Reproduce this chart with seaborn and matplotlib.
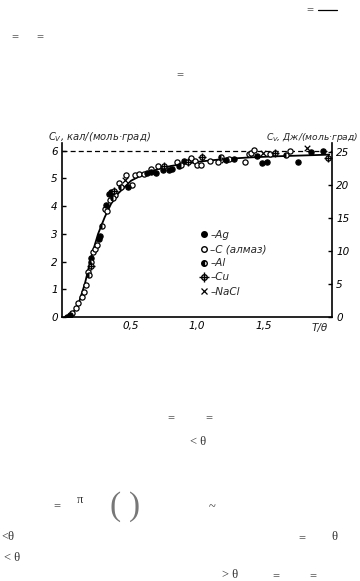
import numpy as np
import pandas as pd
import matplotlib
matplotlib.use("Agg")
import matplotlib.pyplot as plt
import seaborn as sns
from matplotlib.lines import Line2D
from matplotlib.markers import MarkerStyle

# ---- data (T/theta, Cv in cal/(mol*K)) ----
curve_x = [0.0, 0.05, 0.1, 0.15, 0.2, 0.25, 0.3, 0.35, 0.4, 0.5, 0.6, 0.7, 0.8, 1.0, 1.2, 1.4, 1.6, 1.8, 2.0]
curve_y = [0.0, 0.08, 0.45, 1.2, 2.2, 3.0, 3.6, 4.1, 4.45, 4.92, 5.17, 5.33, 5.45, 5.6, 5.7, 5.76, 5.8, 5.83, 5.86]

ag_x = [0.015, 0.04, 0.2, 0.255, 0.265, 0.31, 0.33, 0.35, 0.48, 0.62, 0.65, 0.69, 0.74, 0.79, 0.81, 0.86, 0.90, 1.22, 1.28, 1.45, 1.49, 1.53, 1.76, 1.86, 1.95]
ag_y = [0.0, 0.07, 2.12, 2.8, 2.92, 4.05, 4.45, 4.5, 4.7, 5.2, 5.25, 5.19, 5.3, 5.31, 5.33, 5.45, 5.64, 5.66, 5.69, 5.8, 5.57, 5.6, 5.6, 5.97, 6.0]

c_x = [0.05, 0.08, 0.10, 0.13, 0.145, 0.16, 0.17, 0.215, 0.23, 0.24, 0.30, 0.32, 0.34, 0.38, 0.41, 0.46, 0.51, 0.53, 0.56, 0.60, 0.65, 0.70, 0.85, 0.95, 0.98, 1.00, 1.03, 1.10, 1.16, 1.24, 1.36, 1.39, 1.41, 1.43, 1.55, 1.70]
c_y = [0.14, 0.31, 0.49, 0.73, 0.91, 1.15, 1.64, 2.36, 2.44, 2.6, 3.89, 3.84, 4.22, 4.4, 4.83, 5.13, 4.77, 5.13, 5.15, 5.15, 5.35, 5.45, 5.61, 5.73, 5.64, 5.48, 5.48, 5.64, 5.6, 5.69, 5.6, 5.88, 5.91, 6.03, 5.88, 6.0]

al_x = [0.18, 0.195, 0.28, 0.36, 0.42, 0.88, 1.18, 1.67]
al_y = [1.52, 2.0, 3.3, 4.3, 4.7, 5.5, 5.79, 5.85]

cu_x = [0.195, 0.37, 0.75, 0.93, 1.04, 1.59, 1.99]
cu_y = [1.85, 4.55, 5.45, 5.6, 5.79, 5.93, 5.73]

nacl_x = [0.45, 1.2, 1.50, 1.83]
nacl_y = [4.95, 5.65, 5.91, 6.09]

x_ticks = [0.5, 1.0, 1.5]
x_ticklabels = ["0,5", "1,0", "1,5"]
yl_ticks = [0, 1, 2, 3, 4, 5, 6]
yr_ticks = [0, 5, 10, 15, 20, 25]
labels = ["–Ag", "–C (алмаз)", "–Al", "–Cu", "–NaCl"]
CAL2J = 4.1868

sns.set_theme(style="white")
plt.rcParams['font.family'] = ['DejaVu Sans']

fig = plt.figure(figsize=(3.6, 5.81), dpi=100)
ax = fig.add_axes([62/360, 1 - 317/581, 270/360, 174/581])

df_curve = pd.DataFrame({"x": curve_x, "y": curve_y})
sns.lineplot(data=df_curve, x="x", y="y", ax=ax, color="black", lw=1.3)

ms = 14
sns.scatterplot(x=c_x, y=c_y, ax=ax, marker="o", s=ms, facecolor="white", edgecolor="black", linewidth=0.9, zorder=3)
sns.scatterplot(x=ag_x, y=ag_y, ax=ax, marker="o", s=ms, color="black", edgecolor="black", linewidth=0.9, zorder=4)
sns.scatterplot(x=al_x, y=al_y, ax=ax, marker="o", s=ms, facecolor="white", edgecolor="black", linewidth=0.9, zorder=4)
sns.scatterplot(x=al_x, y=al_y, ax=ax, marker=MarkerStyle("o", fillstyle="left"), s=ms, color="black", linewidth=0, zorder=5)
sns.scatterplot(x=cu_x, y=cu_y, ax=ax, marker="o", s=ms, facecolor="white", edgecolor="black", linewidth=0.9, zorder=4)
sns.scatterplot(x=cu_x, y=cu_y, ax=ax, marker="+", s=40, color="black", linewidth=1.0, zorder=5)
sns.scatterplot(x=nacl_x, y=nacl_y, ax=ax, marker="x", s=16, color="black", linewidth=0.9, zorder=5)

ax.axhline(6, color="black", lw=0.9, ls=(0, (4, 2.5)), zorder=2)

ax.set_xlim(-0.023, 2.02)
ax.set_ylim(0, 6.28)
ax.set_xticks(x_ticks)
ax.set_xticklabels(x_ticklabels, style="italic", fontsize=7.5)
ax.set_yticks(yl_ticks)
ax.set_yticklabels([str(v) for v in yl_ticks], style="italic", fontsize=7.5)
ax.tick_params(direction="in", length=3, width=1, colors="black", pad=3)
ax.set_xlabel("")
ax.set_ylabel("")
for s in ["left", "bottom"]:
    ax.spines[s].set_color("black")
    ax.spines[s].set_linewidth(1.2)
ax.spines["top"].set_visible(False)
ax.spines["right"].set_visible(False)

ax2 = ax.twinx()
ax2.set_ylim(0, 6.28 * CAL2J)
ax2.set_yticks(yr_ticks)
ax2.set_yticklabels([str(v) for v in yr_ticks], style="italic", fontsize=7.5)
ax2.tick_params(direction="in", length=3, width=1, colors="black", pad=3)
for s in ["left", "bottom", "top"]:
    ax2.spines[s].set_visible(False)
ax2.spines["right"].set_color("black")
ax2.spines["right"].set_linewidth(1.2)
ax2.grid(False)
ax.grid(False)

ax.text(0.955, -0.035, "T/θ", transform=ax.transAxes, ha="center", va="top", style="italic", fontsize=7.5)
fig.text(48/360, 1 - 137/581, "$C_V$, кал/(моль·град)", style="italic", fontsize=7.2, va="center", ha="left")
fig.text(266/360, 1 - 137/581, "$C_V$, Дж/(моль·град)", style="italic", fontsize=6.6, va="center", ha="left")

handles = [
    Line2D([], [], ls="none", marker="o", ms=4, mfc="black", mec="black"),
    Line2D([], [], ls="none", marker="o", ms=4, mfc="white", mec="black"),
    Line2D([], [], ls="none", marker="o", ms=4, mfc="black", mfcalt="white", mec="black", fillstyle="left"),
    (Line2D([], [], ls="none", marker="o", ms=4, mfc="white", mec="black"),
     Line2D([], [], ls="none", marker="+", ms=7, mec="black", mew=1.0)),
    Line2D([], [], ls="none", marker="x", ms=4.5, mec="black", mew=0.9),
]
leg = ax.legend(handles, labels, loc="upper left", bbox_to_anchor=(200/360, 1 - 230/581),
                bbox_transform=fig.transFigure, frameon=False, handlelength=0.8,
                handletextpad=0.2, labelspacing=0.4, borderpad=0, borderaxespad=0,
                prop={"size": 7.5, "style": "italic"})

# stray page symbols
serif = ["Liberation Serif", "DejaVu Serif"]
stray = [
    (310, 10, "="), (15, 37, "="), (40, 37, "="), (180, 75, "="),
    (171, 418, "="), (209, 418, "="), (198, 442, "< θ"),
    (57, 506, "="), (80, 500, "π"), (212, 507, "~"),
    (8, 537, "<θ"), (302, 538, "="), (334, 537, "θ"),
    (12, 558, "< θ"),
    (230, 575, "> θ"), (276, 576, "="), (313, 576, "="),
]
for x, y, t in stray:
    fig.text(x/360, 1 - y/581, t, family=serif, fontsize=9, color="#333333", ha="center", va="center")
fig.text(115/360, 1 - 507/581, "(", family=serif, fontsize=24, color="#777777", ha="center", va="center")
fig.text(134/360, 1 - 507/581, ")", family=serif, fontsize=24, color="#777777", ha="center", va="center")
fig.add_artist(Line2D([318/360, 337/360], [1 - 10/581, 1 - 10/581], color="black", lw=0.9))

fig.savefig("out.png", dpi=100, facecolor="white")
